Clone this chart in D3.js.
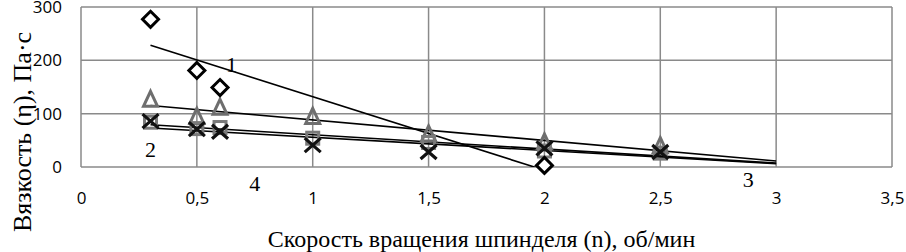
<!DOCTYPE html>
<html lang="ru">
<head>
<meta charset="UTF-8">
<title>Вязкость</title>
<script src="https://d3js.org/d3.v7.min.js"></script>
<style>
  body { margin: 0; background: #fff; }
  svg { display: block; }
  .tick text { font-family: "Open Sans", sans-serif; font-size: 17px; fill: #000; }
  .title { font-family: "Liberation Serif", serif; font-size: 24px; fill: #000; }
  .ytitle { font-family: "Liberation Serif", serif; font-size: 26px; fill: #000; }
  .lbl { font-family: "Liberation Serif", serif; font-size: 22px; fill: #000; }
</style>
</head>
<body>
<svg width="906" height="252"></svg>
<script>
// speed of spindle rotation, rpm
var speeds = [0.3, 0.5, 0.6, 1, 1.5, 2, 2.5];
// viscosity series (null = no point)
var s1 = [277, 181, 149, null, null, 3, null];   // diamonds
var s2 = [125, 93, 110, 93, 60, 45, 38];         // triangles
var s3 = [84, 72, 74, 54, 46, 30, 26];           // squares
var s4 = [86, 71, 66, 41, 28, 35, 28];           // crosses
var xTicks = [0, 0.5, 1, 1.5, 2, 2.5, 3, 3.5];
var yTicks = [0, 100, 200, 300];
var lineLabels = [
  {t: "1", x: 0.65, y: 178},
  {t: "2", x: 0.3, y: 18},
  {t: "3", x: 2.88, y: -38},
  {t: "4", x: 0.75, y: -45}
];

var margin = {top: 7, left: 81, right: 14, bottom: 85};
var width = 906 - margin.left - margin.right;
var height = 252 - margin.top - margin.bottom;

var x = d3.scaleLinear().domain([0, 3.5]).range([0, width]);
var y = d3.scaleLinear().domain([0, 300]).range([height, 0]);

var svg = d3.select("svg").append("g")
    .attr("transform", "translate(" + margin.left + "," + margin.top + ")");

svg.append("defs").append("clipPath").attr("id", "clip")
  .append("rect").attr("width", width).attr("height", height);

// grid
svg.append("g").selectAll("line.v").data(xTicks).enter().append("line")
    .attr("x1", d => x(d)).attr("x2", d => x(d))
    .attr("y1", 0).attr("y2", height)
    .attr("stroke", "#8a8a8a").attr("stroke-width", 1.5);
svg.append("g").selectAll("line.h").data(yTicks).enter().append("line")
    .attr("x1", 0).attr("x2", width)
    .attr("y1", d => y(d)).attr("y2", d => y(d))
    .attr("stroke", "#8a8a8a").attr("stroke-width", 1.5);

// axes (labels only)
var xAxis = svg.append("g")
    .attr("transform", "translate(0," + height + ")")
    .call(d3.axisBottom(x).tickValues(xTicks).tickSize(0).tickPadding(25)
      .tickFormat(d => String(d).replace(".", ",")));
xAxis.select(".domain").remove();

var yAxis = svg.append("g")
    .call(d3.axisLeft(y).tickValues(yTicks).tickSize(0).tickPadding(19));
yAxis.select(".domain").remove();

// trend lines (least squares)
function fit(vals) {
  var pts = speeds.map((s, i) => [s, vals[i]]).filter(p => p[1] != null);
  var mx = d3.mean(pts, p => p[0]), my = d3.mean(pts, p => p[1]);
  var sxy = d3.sum(pts, p => (p[0] - mx) * (p[1] - my));
  var sxx = d3.sum(pts, p => (p[0] - mx) * (p[0] - mx));
  var b = sxy / sxx, a = my - b * mx;
  return {a: a, b: b, x0: d3.min(pts, p => p[0])};
}
var trends = [
  {v: s1, end: 2},
  {v: s2, end: 3},
  {v: s3, end: 3},
  {v: s4, end: 3}
];
var tg = svg.append("g").attr("clip-path", "url(#clip)");
trends.forEach(function(t) {
  var f = fit(t.v);
  tg.append("line")
    .attr("x1", x(f.x0)).attr("y1", y(f.a + f.b * f.x0))
    .attr("x2", x(t.end)).attr("y2", y(f.a + f.b * t.end))
    .attr("stroke", "#000").attr("stroke-width", 1.6);
});

function pts(vals) {
  return speeds.map((s, i) => ({x: s, y: vals[i]})).filter(d => d.y != null);
}

// triangles
svg.append("g").selectAll("path").data(pts(s2)).enter().append("path")
    .attr("d", "M0,-9L7,6L-7,6Z")
    .attr("transform", d => "translate(" + x(d.x) + "," + y(d.y) + ")")
    .attr("fill", "none").attr("stroke", "#6e6e6e").attr("stroke-width", 3);
// squares
svg.append("g").selectAll("rect").data(pts(s3)).enter().append("rect")
    .attr("x", d => x(d.x) - 6).attr("y", d => y(d.y) - 6)
    .attr("width", 12).attr("height", 12)
    .attr("fill", "none").attr("stroke", "#7a7a7a").attr("stroke-width", 3);
// crosses
svg.append("g").selectAll("path").data(pts(s4)).enter().append("path")
    .attr("d", "M-8,-7L8,7M-8,7L8,-7")
    .attr("transform", d => "translate(" + x(d.x) + "," + y(d.y) + ")")
    .attr("stroke", "#111").attr("stroke-width", 3.2);
// diamonds
svg.append("g").selectAll("path").data(pts(s1)).enter().append("path")
    .attr("d", "M0,-8L8,0L0,8L-8,0Z")
    .attr("transform", d => "translate(" + x(d.x) + "," + y(d.y) + ")")
    .attr("fill", "#fff").attr("stroke", "#000").attr("stroke-width", 3);

// line numbers
svg.append("g").selectAll("text").data(lineLabels).enter().append("text")
    .attr("class", "lbl")
    .attr("x", d => x(d.x)).attr("y", d => y(d.y))
    .attr("text-anchor", "middle")
    .text(d => d.t);

// axis titles
svg.append("text").attr("class", "title")
    .attr("x", width / 2 - 5).attr("y", height + 80)
    .attr("text-anchor", "middle")
    .text("Скорость вращения шпинделя (n), об/мин");
svg.append("text").attr("class", "ytitle")
    .attr("transform", "translate(" + (-50) + "," + (height / 2 + 45) + ")rotate(-90)")
    .attr("text-anchor", "middle")
    .text("Вязкость (η), Па·с");
</script>
</body>
</html>
